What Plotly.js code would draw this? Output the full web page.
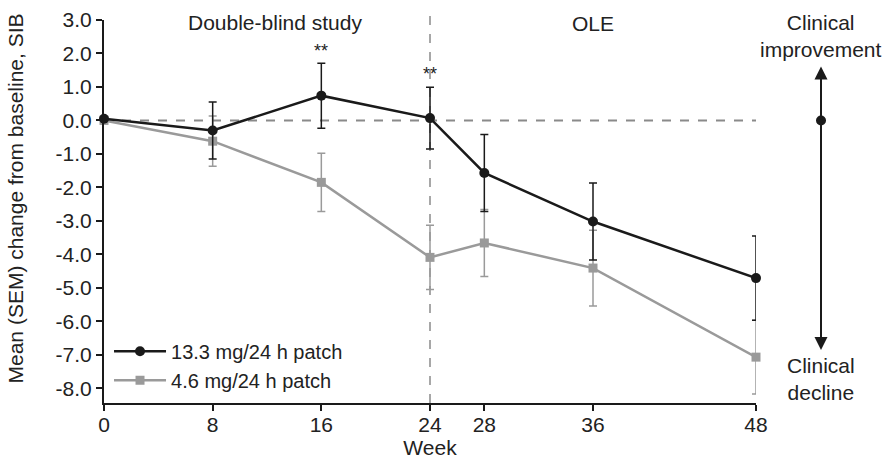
<!DOCTYPE html>
<html><head><meta charset="utf-8">
<script src="https://cdn.plot.ly/plotly-3.0.1.min.js"></script>
<style>html,body{margin:0;padding:0;background:#fff}#chart{width:886px;height:461px}</style>
</head><body><div id="chart"></div>
<script>
const weeks = [0, 8, 16, 24, 28, 36, 48];
const highDose = [0.05, -0.30, 0.74, 0.07, -1.57, -3.02, -4.71];
const highDoseSem = [0, 0.85, 0.97, 0.92, 1.15, 1.15, 1.26];
const lowDose = [0.0, -0.62, -1.85, -4.09, -3.66, -4.41, -7.07];
const lowDoseSem = [0, 0.75, 0.87, 0.96, 1.0, 1.13, 1.1];
const yTickVals = [3, 2, 1, 0, -1, -2, -3, -4, -5, -6, -7, -8];
const yTickText = ["3.0","2.0","1.0","0.0","-1.0","-2.0","-3.0","-4.0","-5.0","-6.0","-7.0","-8.0"];
const xTickVals = [0, 8, 16, 24, 28, 36, 48];

const FAM = "Liberation Sans, Arial, sans-serif";
const font = {family: FAM, size: 21, color: "#222"};
const legFont = {family: FAM, size: 20, color: "#222"};
const black = "#1a1a1a", grey = "#9a9a9a";

const traces = [
  {x: weeks, y: lowDose, name: "4.6 mg/24 h patch", type: "scatter", mode: "lines+markers",
   legendrank: 2, cliponaxis: false,
   line: {color: grey, width: 2.5}, marker: {symbol: "square", size: 9, color: grey},
   error_y: {type: "data", array: lowDoseSem, visible: true, color: grey, thickness: 1.5, width: 4}},
  {x: weeks, y: highDose, name: "13.3 mg/24 h patch", type: "scatter", mode: "lines+markers",
   legendrank: 1, cliponaxis: false,
   line: {color: black, width: 2.5}, marker: {symbol: "circle", size: 10, color: black},
   error_y: {type: "data", array: highDoseSem, visible: true, color: black, thickness: 1.5, width: 4}}
];

const layout = {
  width: 886, height: 461,
  margin: {l: 104, r: 130, t: 20, b: 58},
  paper_bgcolor: "#fff", plot_bgcolor: "#fff",
  font: font,
  showlegend: true,
  legend: {x: 0.0077, y: 0.186, xanchor: "left", yanchor: "top", bgcolor: "rgba(0,0,0,0)",
           font: legFont, tracegroupgap: 0, itemwidth: 52},
  xaxis: {range: [0, 48], tickvals: xTickVals, ticktext: xTickVals.map(String),
          showline: true, linecolor: black, linewidth: 2, ticks: "outside", ticklen: 6,
          tickwidth: 2, tickcolor: black, showgrid: false, zeroline: false,
          tickfont: font, ticklabelstandoff: -4,
          title: {text: "Week", font: font, standoff: 2}},
  yaxis: {range: [-8.44, 3.0], tickvals: yTickVals, ticktext: yTickText,
          showline: true, linecolor: black, linewidth: 2, ticks: "outside", ticklen: 6,
          tickwidth: 2, tickcolor: black, showgrid: false, zeroline: false,
          tickfont: font},
  shapes: [
    {type: "line", xref: "x", yref: "y", x0: 0, x1: 48, y0: 0, y1: 0,
     line: {color: "#8a8a8a", width: 2, dash: "dash"}, layer: "below"},
    {type: "line", xref: "x", yref: "paper", x0: 24, x1: 24, y0: 0, y1: 1.013,
     line: {color: "#8a8a8a", width: 1.5, dash: "dash"}, layer: "below"},
    {type: "circle", xref: "paper", yref: "y", xsizemode: "pixel", ysizemode: "pixel",
     xanchor: 1.0997, yanchor: 0, x0: -5, x1: 5, y0: -5, y1: 5,
     fillcolor: black, line: {color: black, width: 0}}
  ],
  annotations: [
    {text: "Mean (SEM) change from baseline, SIB", xref: "paper", yref: "paper",
     x: -0.1365, y: 0.534, textangle: -90, xanchor: "center", yanchor: "middle",
     showarrow: false, font: font},
    {text: "Double-blind study", xref: "x", yref: "paper", x: 12.6, y: 0.993, yanchor: "middle",
     showarrow: false, font: font},
    {text: "OLE", xref: "x", yref: "paper", x: 36, y: 0.99, yanchor: "middle",
     showarrow: false, font: font},
    {text: "**", xref: "x", yref: "y", x: 16, y: 1.72, yanchor: "bottom", yshift: 0,
     showarrow: false, font: {family: FAM, size: 18, color: "#222"}},
    {text: "**", xref: "x", yref: "y", x: 24, y: 1.04, yanchor: "bottom", yshift: 0,
     showarrow: false, font: {family: FAM, size: 18, color: "#222"}},
    {text: "Clinical<br>improvement", xref: "paper", yref: "paper", x: 1.0997, y: 0.958,
     xanchor: "center", yanchor: "middle", showarrow: false, font: font},
    {text: "Clinical<br>decline", xref: "paper", yref: "paper", x: 1.0997, y: 0.062,
     xanchor: "center", yanchor: "middle", showarrow: false, font: font},
    {text: "", xref: "paper", yref: "y", x: 1.0997, y: 1.61, ax: 0, ay: 285,
     showarrow: true, arrowhead: 2, arrowside: "end+start", arrowsize: 1.3, arrowwidth: 2,
     arrowcolor: black, standoff: 0, startstandoff: 0}
  ]
};

Plotly.newPlot("chart", traces, layout, {displayModeBar: false, staticPlot: true});
</script></body></html>
